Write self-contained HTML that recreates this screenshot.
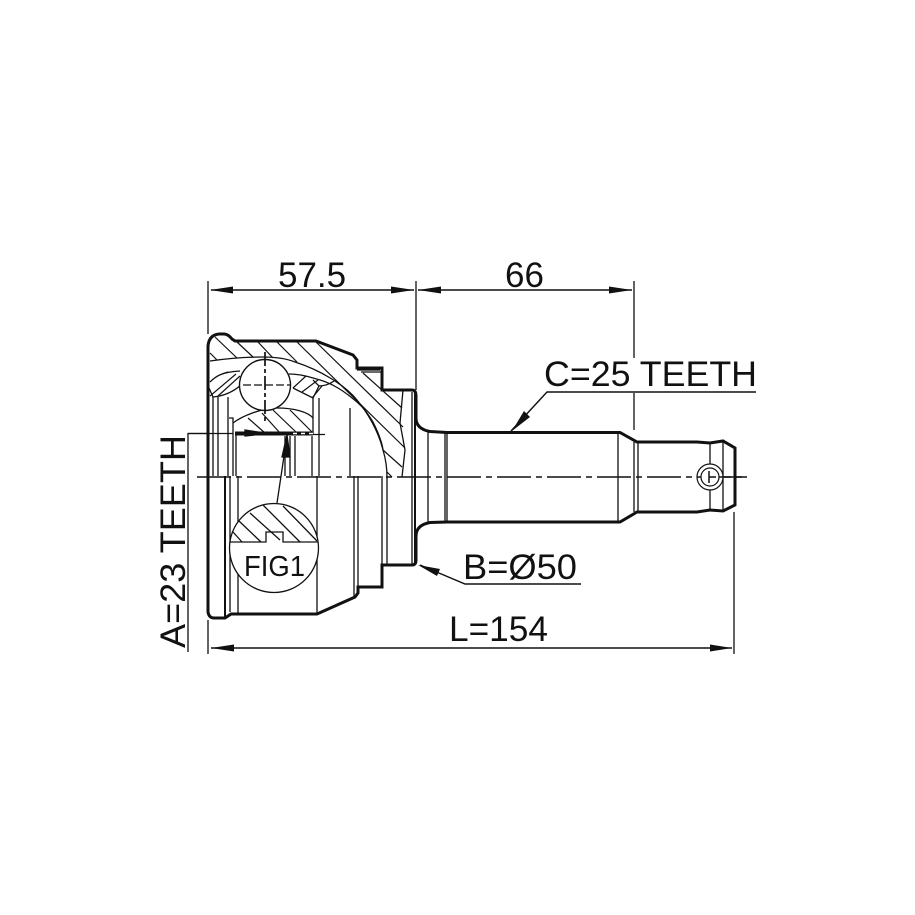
<!DOCTYPE html>
<html><head><meta charset="utf-8"><style>html,body{margin:0;padding:0;background:#fff}svg{display:block}text{font-family:"Liberation Sans",sans-serif;fill:#111}</style></head><body>
<svg width="915" height="915" viewBox="0 0 915 915" xmlns="http://www.w3.org/2000/svg" fill="none" stroke="#111" stroke-width="1.3">
<!-- dimension lines -->
<path d="M208 281V334M416 281V390M634 281V358M634 393V430M734 512V654M208 620V654"/>
<path d="M211 290H414M418 290H632M211 648H732" stroke-width="1.5"/>
<path d="M188 652V433.500H233"/>
<path d="M511 431L547 392H756M420 565L465 584H581" stroke-width="1.4"/>
<g fill="#111" stroke="none">
<path d="M210 290L233 286.500V293.500ZM414 290L391 286.500V293.500ZM418 290L441 286.500V293.500ZM632 290L609 286.500V293.500ZM211 648L234 644.500V651.500ZM732 648L710 644.500V651.500Z"/>
<path d="M512 431L524 411L530 417ZM418 565L440 569L437 576Z"/>
</g>
<!-- outline -->
<path d="M208 612V346Q209 335 219 334H224Q228 334 232 339L235 341H316L353 355L357 360V368H382V390H412Q416 390 416 396V418C416 426 422 430 430 431.500L447 432.500H620L637 442H697L710 443L723 441L735 448V505L723 511L710 510L697 512H637L620 522H447L430 522.500C422 524 416 528 416 536V560Q416 565 412 565H382V587H358V593L355 597L317 614H236L231 614L225 618H214Q209 618 208 612Z" stroke-width="3" fill="#fff"/>
<path d="M357 370H380M361 372L382 372" stroke-width="1.3"/>
<!-- inner verticals -->
<path d="M213 397V476M218 397V476M228 397V476M229 418H233V476M236 435V476M285 436V476M290 436V476M295 436V476M312 436V476M319 398V476M313 398V434M350 408V476"/>
<path d="M225 476V618" stroke-width="2"/>
<path d="M230 476V612M238 476V613M317 476V613M354 476V596M358 476V592M382 476V587M387 476V565M412 392V564M428 431V522M445 432V522M447 432V522M618 432V522M634 442V512M638 442V512M710 442V464M710 490V510M723 441V511"/>
<path d="M415 392V564" stroke-width="2"/>
<!-- section curves -->
<path d="M210 361C230 358 250 357 263 357C275 357 285 358 295 362C320 370 345 385 357 400C367 412 378 430 383 450C386 460 387 468 387 477"/>
<path d="M210 382C216 376 222 372 240 371M289 374C300 374 310 377 320 380C334 384 345 392 357 402C364 408 368 414 373 422C378 432 382 442 383 450"/>
<path d="M318 386C325 386 330 384 334 381"/>
<path d="M209 388L213 397C224 396 233 392 241 385"/>
<path d="M293 388L313 398L319 386L313 380"/>
<path d="M233 423C242 416 262 408 277 408C294 408 308 412 313 418"/>
<path d="M403 390L400 423L405 450L402 477"/>
<!-- hatching -->
<g stroke-width="1.2">
<path d="M215 337L237 358M237 342L253 357M258 342L273 358M277 342L297 362M297 342L405 448M316 342L403 427M363 373L402 408M210 353L217 360M383 450L402 467M387 472L392 477"/>
<path d="M210 396L236 374M218 396L240 376M222 374L228 372"/>
<path d="M293 388L306 376M302 392L318 380M312 398L322 386"/>
<path d="M248 418L265 433M262 413L280 433M273 410L297 433M290 410L312 432"/>
</g>
<!-- thick spline band -->
<path d="M235 433.500H313" stroke-width="4"/>
<path d="M188 433.500H233M313 434.500H325" stroke-width="1.3"/>
<path d="M245 430L268 433.500L245 436Z" fill="#111" stroke="#111"/>
<path d="M293 433.500H313" stroke="#fff" stroke-width="1.5" stroke-dasharray="4 4"/>
<!-- ball -->
<circle cx="265" cy="385" r="25.500" fill="#fff" stroke-width="1.4"/>
<path d="M243 385H291" stroke-dasharray="8 3" stroke-width="1.3"/>
<path d="M265 352V422" stroke-dasharray="14 3 4 3" stroke-width="1.7"/>
<!-- centre line -->
<path d="M197 477H747" stroke-width="1.6" stroke-dasharray="34 5 6 5"/>
<!-- FIG circle + leader -->
<line x1="277" y1="503" x2="287" y2="436"/>
<path d="M287 435L282 457L290 457Z" fill="#111" stroke="#111"/>
<circle cx="274" cy="548" r="44.500" fill="#fff" stroke-width="1.3"/>
<path d="M230 542H266V532H283V542H318"/>
<path d="M233 532L242 542M239 521L261 542M250 513L280 540M263 505L300 542M283 506L317 541"/>
<!-- eye -->
<circle cx="710" cy="477" r="13" fill="#fff" stroke-width="1.2"/>
<circle cx="710" cy="477" r="9" stroke-width="1.2"/>
<path d="M709 471V483M709 477H716" stroke-width="1.5"/>
<path d="M697 477H701M719 477H747" stroke-width="1.5"/>
<!-- text -->
<g stroke="none">
<text x="278" y="287" font-size="35">57.5</text>
<text x="505" y="287" font-size="35">66</text>
<text x="544" y="386" font-size="35" textLength="213" lengthAdjust="spacingAndGlyphs">C=25 TEETH</text>
<text x="463" y="579" font-size="35" textLength="114" lengthAdjust="spacingAndGlyphs">B=&#216;50</text>
<text x="449" y="641" font-size="35" textLength="99" lengthAdjust="spacingAndGlyphs">L=154</text>
<text x="244" y="576" font-size="29" textLength="61" lengthAdjust="spacingAndGlyphs">FIG1</text>
<text transform="translate(185 648) rotate(-90)" font-size="35" textLength="213" lengthAdjust="spacingAndGlyphs">A=23 TEETH</text>
</g>
</svg>
</body></html>
